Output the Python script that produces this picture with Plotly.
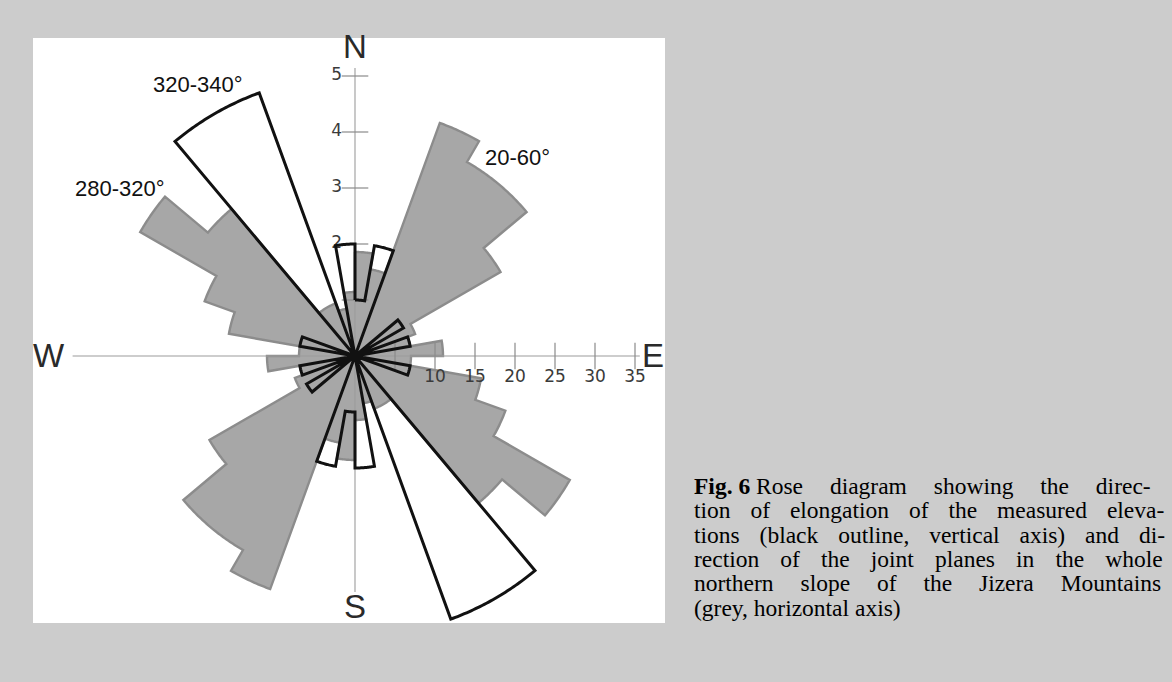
import numpy as np
import plotly.graph_objects as go

# ---------------- data (10-degree classes, azimuth of class start) ----------------
BIN_STARTS = list(range(0, 360, 10))
BIN_WIDTH = 10
# grey rose: joint planes (horizontal axis scale)
JOINT_COUNTS = [13, 11, 31, 28, 28, 21, 8, 7, 11, 7, 16, 20, 31, 24, 7, 7, 6, 8,
                13, 11, 31, 28, 28, 21, 8, 7, 11, 7, 16, 20, 31, 24, 7, 7, 6, 8]
# black outline rose: elongation of elevations (vertical axis scale)
ELEVATION_COUNTS = [1, 2, 0, 0, 0, 1, 0, 1, 0, 0, 1, 0, 0, 0, 5, 5, 0, 2,
                    1, 2, 0, 0, 0, 1, 0, 1, 0, 0, 1, 0, 0, 0, 5, 5, 0, 2]

JOINT_TICKS = [5, 10, 15, 20, 25, 30, 35]
JOINT_TICK_LABELS = ["", "10", "15", "20", "25", "30", "35"]
ELEV_TICKS = [1, 2, 3, 4, 5]
ELEV_TICK_LABELS = ["", "2", "3", "4", "5"]

CLASS_LABELS = ["320-340°", "280-320°", "20-60°"]
COMPASS = ["N", "E", "S", "W"]
CAPTION_HEAD = "Fig. 6"
CAPTION = [
    "Rose diagram showing the direc-",
    "tion of elongation of the measured eleva-",
    "tions (black outline, vertical axis) and di-",
    "rection of the joint planes in the whole",
    "northern slope of the Jizera Mountains",
    "(grey, horizontal axis)",
]
# extra word spacing (px) to imitate the justified caption
CAPTION_WORD_SPACING = [21.0, 14.0, 14.0, 15.2, 21.0, 0.0]

# ---------------- layout constants ----------------
W, H = 1172, 682
CX, CY, RAD = 355, 356, 288          # centre and radius of the rose (px)
R_JOINT = 36.0                        # joint scale reaching RAD
SCALE = 7.0                           # 35 joints <-> 5 elevations
R_ELEV = R_JOINT / SCALE


def px(x):
    return x / W


def py(y):
    return 1 - y / H


def rose_outline(starts, values, width, step=0.5):
    th, rr = [], []
    for s, v in zip(starts, values):
        seg = np.arange(s, s + width + 1e-9, step)
        th.extend(seg.tolist())
        rr.extend([v] * len(seg))
    th.append(th[0])
    rr.append(rr[0])
    return rr, th


dom = dict(x=[px(CX - RAD), px(CX + RAD)], y=[py(CY + RAD), py(CY - RAD)])
ang = dict(visible=False, rotation=90, direction="clockwise")

fig = go.Figure()

# grey rose
gr, gt = rose_outline(BIN_STARTS, JOINT_COUNTS, BIN_WIDTH)
fig.add_trace(go.Scatterpolar(r=gr, theta=gt, mode="lines", fill="toself",
                              fillcolor="#a7a7a7",
                              line=dict(color="#8c8c8c", width=2.4),
                              subplot="polar", hoverinfo="skip", showlegend=False))

# axis cross
fig.add_trace(go.Scatterpolar(r=[36.1, 0, 29.5, None, 35.3, 0, 35.6],
                              theta=[0, 0, 180, None, 270, 0, 90],
                              mode="lines", line=dict(color="#9c9c9c", width=1.1),
                              subplot="polar", hoverinfo="skip", showlegend=False))

# horizontal (joint) axis ticks + labels
fig.add_trace(go.Scatterpolar(r=JOINT_TICKS, theta=[90] * len(JOINT_TICKS),
                              mode="markers+text", text=JOINT_TICK_LABELS,
                              textposition="bottom center",
                              textfont=dict(family="DejaVu Sans", size=17, color="#3a3a3a"),
                              marker=dict(symbol="line-ns-open", size=19, color="#8a8a8a",
                                          line=dict(width=1.2, color="#8a8a8a")),
                              subplot="polar", hoverinfo="skip", showlegend=False,
                              cliponaxis=False))

# vertical (elevation) axis ticks + labels
fig.add_trace(go.Scatterpolar(r=ELEV_TICKS, theta=[0] * len(ELEV_TICKS),
                              mode="markers+text", text=ELEV_TICK_LABELS,
                              textposition="middle left",
                              textfont=dict(family="DejaVu Sans", size=17, color="#3a3a3a"),
                              marker=dict(symbol="line-ew-open", size=19, color="#8a8a8a",
                                          line=dict(width=1.2, color="#8a8a8a")),
                              subplot="polar2", hoverinfo="skip", showlegend=False,
                              cliponaxis=False))

# black outline rose
er, et = rose_outline(BIN_STARTS, ELEVATION_COUNTS, BIN_WIDTH)
fig.add_trace(go.Scatterpolar(r=er, theta=et, mode="lines",
                              line=dict(color="#111111", width=3),
                              subplot="polar2", hoverinfo="skip", showlegend=False))

annotations = []
# compass letters
comp_pos = {"N": (355, 47), "E": (653, 355), "S": (355, 606), "W": (49, 355)}
for c in COMPASS:
    x, y = comp_pos[c]
    annotations.append(dict(x=px(x), y=py(y), xref="paper", yref="paper", text=c,
                            showarrow=False, xanchor="center", yanchor="middle",
                            font=dict(family="Liberation Sans", size=33, color="#2a2a2a")))
# class labels
cls_pos = [(198, 84), (120, 189), (517, 157)]
for t, (x, y) in zip(CLASS_LABELS, cls_pos):
    annotations.append(dict(x=px(x), y=py(y), xref="paper", yref="paper", text=t,
                            showarrow=False, xanchor="center", yanchor="middle",
                            font=dict(family="Liberation Sans", size=22, color="#111111")))
# caption
for i, (line, ws) in enumerate(zip(CAPTION, CAPTION_WORD_SPACING)):
    txt = f'<span style="word-spacing:{ws}px">{line}</span>' if ws else line
    if i == 0:
        txt = f"<b>{CAPTION_HEAD}</b> " + txt
    annotations.append(dict(x=px(692), y=py(486 + i * 24.3), xref="paper", yref="paper",
                            text=txt, showarrow=False, xanchor="left", yanchor="middle",
                            font=dict(family="Liberation Serif", size=23.5, color="#000000")))

fig.update_layout(
    width=W, height=H,
    margin=dict(l=0, r=0, t=0, b=0),
    paper_bgcolor="#cccccc",
    showlegend=False,
    polar=dict(domain=dom, bgcolor="rgba(0,0,0,0)", angularaxis=ang,
               radialaxis=dict(visible=False, range=[0, R_JOINT])),
    polar2=dict(domain=dom, bgcolor="rgba(0,0,0,0)", angularaxis=ang,
                radialaxis=dict(visible=False, range=[0, R_ELEV])),
    shapes=[dict(type="rect", xref="paper", yref="paper", layer="below",
                 x0=px(33), x1=px(665), y0=py(623), y1=py(38),
                 fillcolor="#ffffff", line=dict(width=0))],
    annotations=annotations,
)

fig.write_html("out.html",
               config={"displayModeBar": False},
               post_script="document.body.style.margin='0px';"
                           "document.body.style.background='#cccccc';")
